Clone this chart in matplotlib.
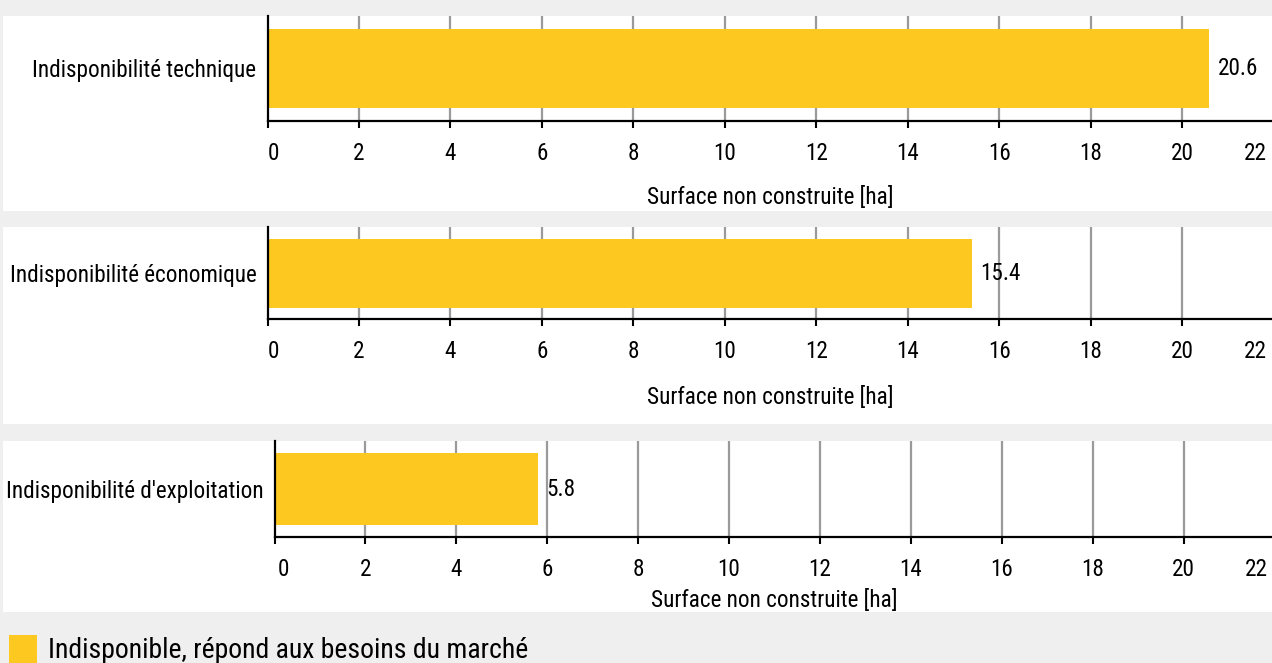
import matplotlib
matplotlib.use("Agg")
import matplotlib.pyplot as plt
from matplotlib.patches import Rectangle
from matplotlib.transforms import ScaledTranslation

plt.rcParams['font.family'] = ['Roboto Condensed', 'DejaVu Sans']

# data
categories = ["Indisponibilité technique",
              "Indisponibilité économique",
              "Indisponibilité d'exploitation"]
values = [20.6, 15.4, 5.8]
xticks = list(range(0, 23, 2))
xlabel = "Surface non construite [ha]"
legend_label = "Indisponible, répond aux besoins du marché"

BAR = "#fdc820"
BG = "#efefef"
GRID = "#9a9a9a"

W, H = 1272, 663
fig = plt.figure(figsize=(W / 100, H / 100), dpi=100)
fig.patch.set_facecolor(BG)

def fx(px):
    return px / W

def fy(py):
    return 1 - py / H

# pixel layout of each panel: white box (top, bottom), axes (left, width, top, bottom), xlabel pad
panels = [
    dict(box=(16, 211), ax=(267.5, 1006, 16, 121), xpad=15.5, first=0),
    dict(box=(227, 424), ax=(267.5, 1006, 227, 319), xpad=17, first=0),
    dict(box=(441, 612), ax=(274.5, 1000, 441, 537), xpad=6, first=3),
]

for cat, val, p in zip(categories, values, panels):
    bt, bb = p["box"]
    fig.patches.append(Rectangle((fx(3), fy(bb)), fx(W - 3), (bb - bt) / H,
                                 transform=fig.transFigure, facecolor="white",
                                 edgecolor="none", zorder=-5))
    left, width, top, bottom = p["ax"]
    ax = fig.add_axes([fx(left), fy(bottom), width / W, (bottom - top) / H])
    ax.set_facecolor("none")
    ax.barh([0], [val], height=0.75, color=BAR, zorder=2)
    ax.set_xlim(0, 22)
    ax.set_ylim(-0.5, 0.5)
    ax.set_yticks([0])
    ax.set_yticklabels([cat], fontsize=16.7)
    ax.tick_params(axis="y", length=0, pad=8)
    ax.set_xticks(xticks)
    ax.set_xticklabels([str(t) for t in xticks], fontsize=16.7)
    ax.tick_params(axis="x", length=5, width=1.5, pad=10, color="black")
    lbls = ax.get_xticklabels()
    lbls[0].set_ha("left")
    lbls[0].set_transform(lbls[0].get_transform()
                          + ScaledTranslation(p["first"] / 100, 0, fig.dpi_scale_trans))
    lbls[-1].set_ha("right")
    lbls[-1].set_transform(lbls[-1].get_transform()
                           + ScaledTranslation(-7 / 100, 0, fig.dpi_scale_trans))
    for t in xticks[1:-1]:
        ax.axvline(t, color=GRID, lw=1.6, zorder=1)
    for s in ["top", "right"]:
        ax.spines[s].set_visible(False)
    ax.spines["left"].set_linewidth(1.6)
    ax.spines["bottom"].set_linewidth(1.6)
    ax.spines["left"].set_zorder(3)
    ax.set_xlabel(xlabel, fontsize=16.7, labelpad=p["xpad"])
    ax.text(val + 0.18, 0, f"{val}", va="center", ha="left", fontsize=16.7)

# legend
fig.patches.append(Rectangle((fx(9), fy(663)), fx(28), 28 / H,
                             transform=fig.transFigure, facecolor=BAR,
                             edgecolor="none"))
fig.text(fx(48), fy(650), legend_label, fontsize=20, va="center", ha="left")

fig.savefig("out.png", dpi=100, facecolor=BG)
